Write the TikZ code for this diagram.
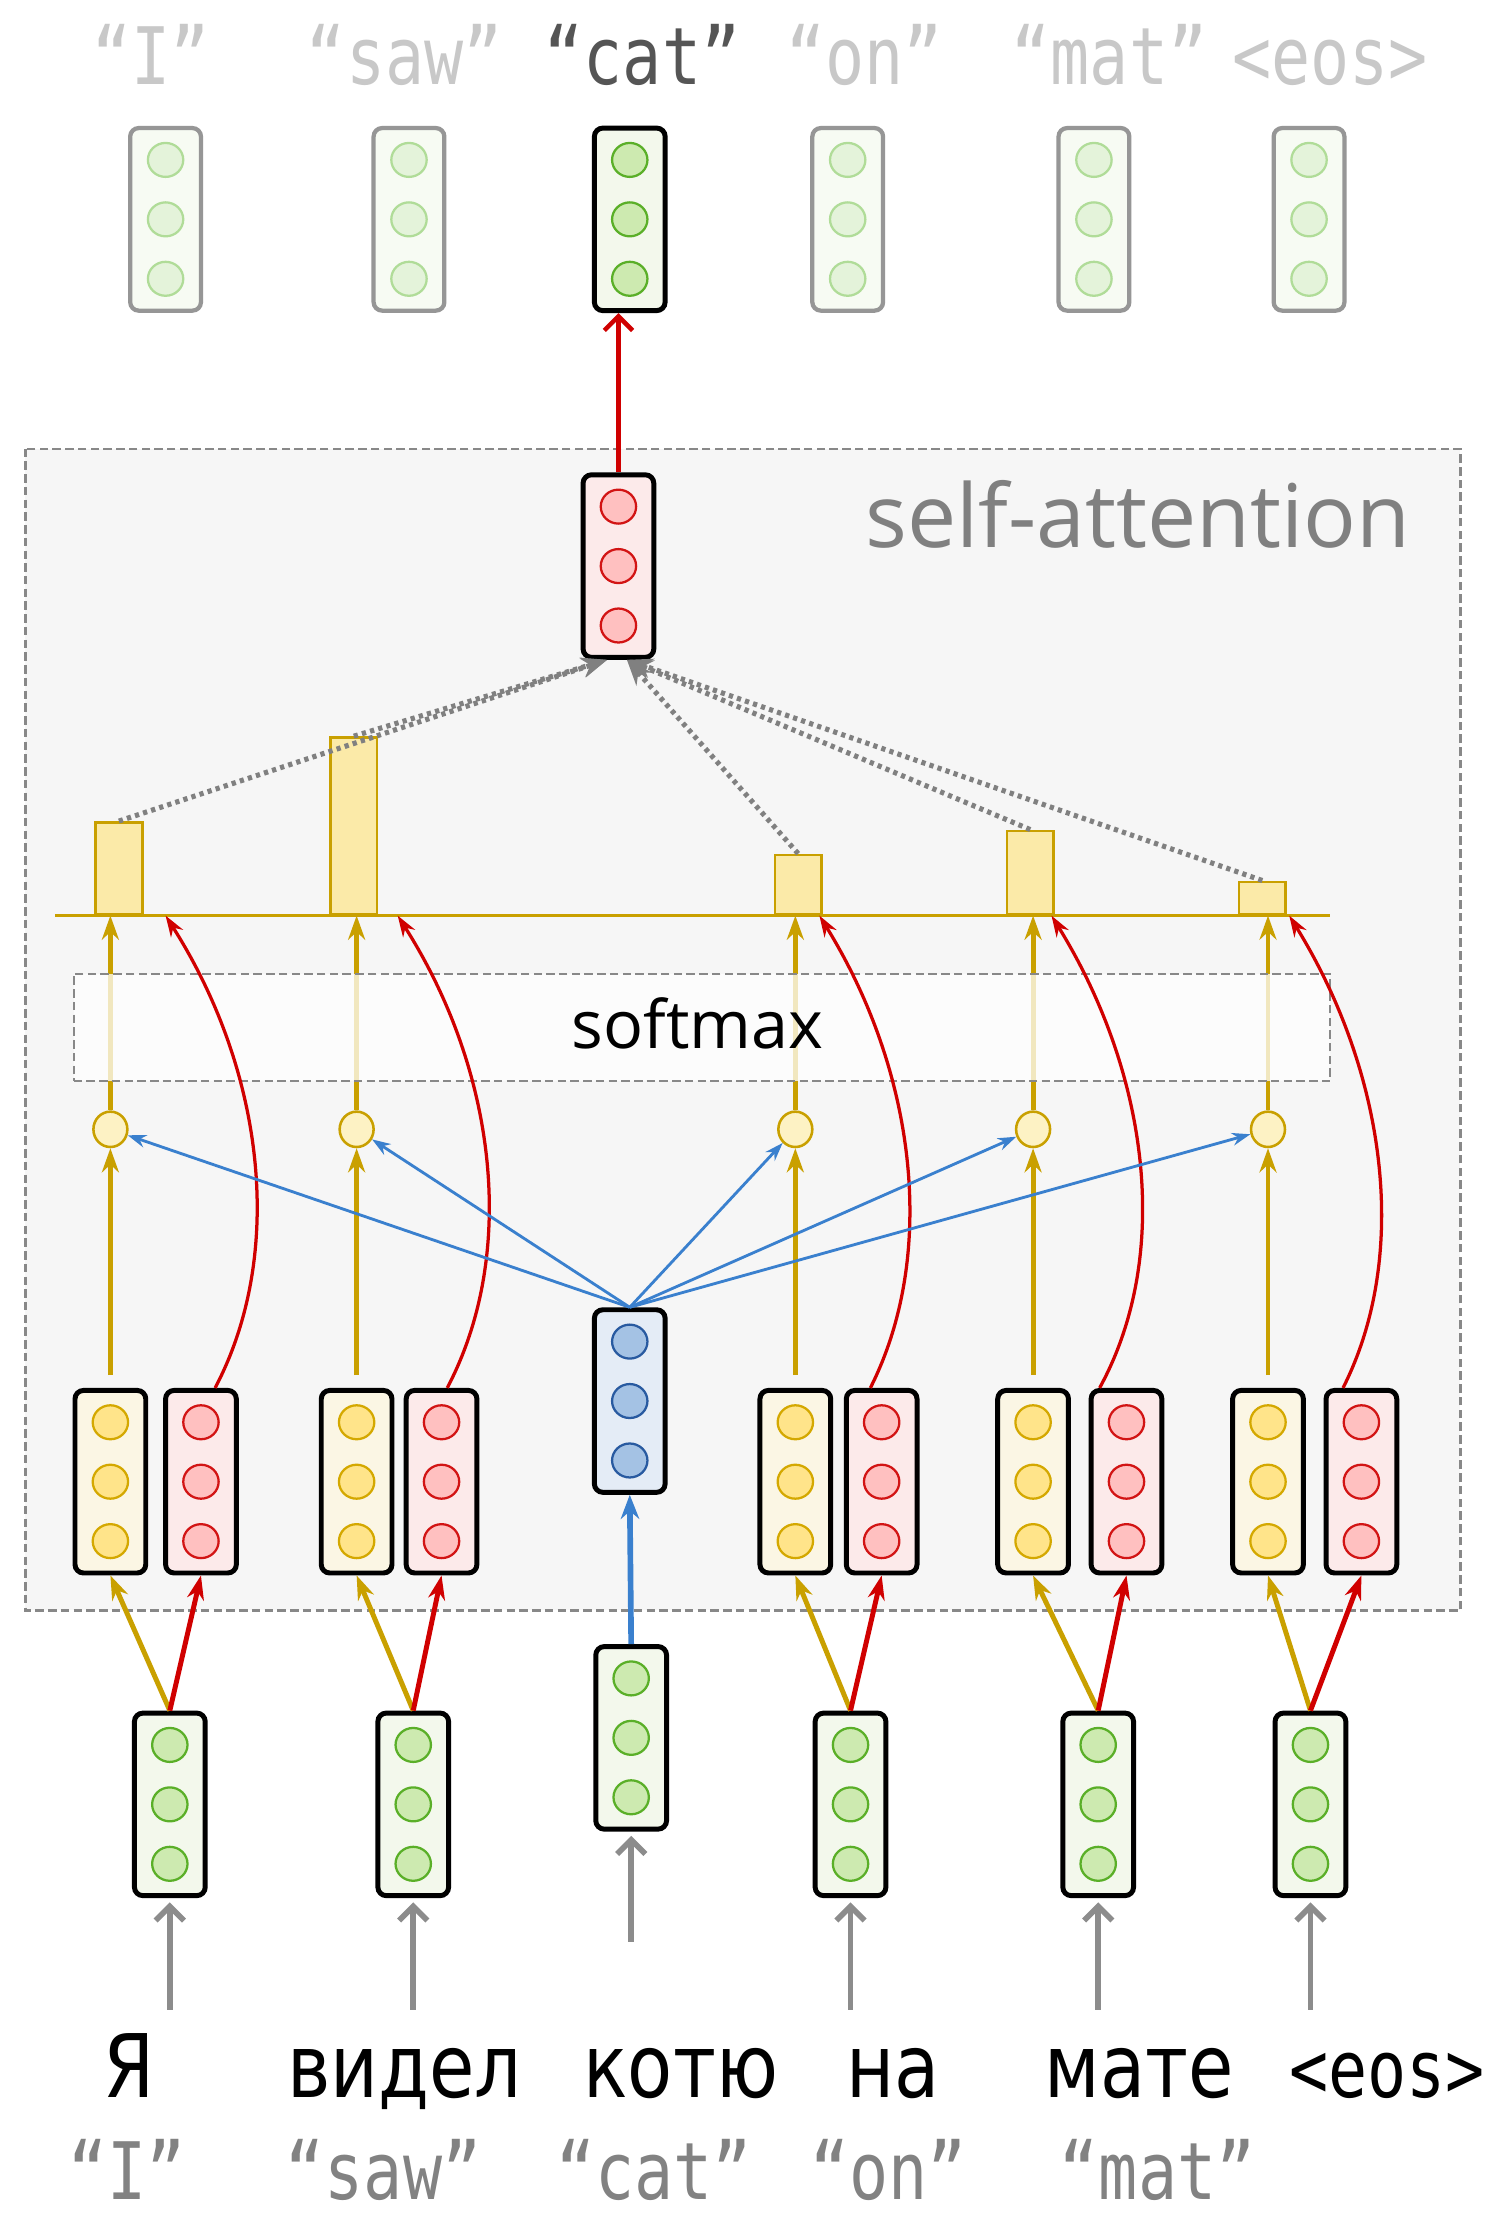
\documentclass[tikz,border=0pt]{standalone}
\usepackage{fontspec}
\usepackage{graphicx}
\setmainfont{DejaVu Sans}
\newfontfamily\monof{DejaVu Sans Mono}
\newfontfamily\osans{Open Sans}
\usetikzlibrary{arrows.meta,shapes.geometric,calc}

\definecolor{gold}{RGB}{201,160,0}
\definecolor{redc}{RGB}{208,0,0}
\definecolor{bluec}{RGB}{58,128,206}
\definecolor{greenc}{RGB}{90,175,40}
\definecolor{greenf}{RGB}{205,234,176}
\definecolor{greenbox}{RGB}{243,248,236}
\definecolor{yelc}{RGB}{212,168,0}
\definecolor{yelf}{RGB}{255,228,138}
\definecolor{yelbox}{RGB}{251,246,228}
\definecolor{redcir}{RGB}{210,20,20}
\definecolor{redf}{RGB}{255,192,192}
\definecolor{redbox}{RGB}{252,234,234}
\definecolor{bluecir}{RGB}{40,90,160}
\definecolor{bluef}{RGB}{164,194,228}
\definecolor{bluebox}{RGB}{228,236,246}
\definecolor{bgc}{RGB}{246,246,246}
\definecolor{barf}{RGB}{251,234,168}
\definecolor{scoref}{RGB}{253,242,196}
\definecolor{fadegray}{RGB}{150,150,150}
\definecolor{fadebox}{RGB}{247,251,243}
\definecolor{fadecir}{RGB}{176,220,152}
\definecolor{fadef}{RGB}{228,243,218}
\definecolor{framegray}{RGB}{136,136,136}
\definecolor{dotgray}{RGB}{128,128,128}
\definecolor{ingray}{RGB}{140,140,140}
\definecolor{satgray}{RGB}{128,128,128}
\definecolor{glossgray}{RGB}{130,130,130}
\definecolor{toplight}{RGB}{200,200,200}
\definecolor{topdark}{RGB}{85,85,85}

\tikzset{
  vbx/.style={rectangle, rounded corners=6pt, minimum width=50pt, minimum height=129pt, line width=3.5pt, inner sep=0pt, draw=black},
  vcir/.style={ellipse, minimum width=25pt, minimum height=24pt, inner sep=0pt, line width=1.6pt},
  gbx/.style={fill=greenbox}, gcir/.style={draw=greenc, fill=greenf},
  ybx/.style={fill=yelbox}, ycir/.style={draw=yelc, fill=yelf},
  rbx/.style={fill=redbox}, rcir/.style={draw=redcir, fill=redf},
  bbx/.style={fill=bluebox}, bcir/.style={draw=bluecir, fill=bluef},
  fbx/.style={draw=fadegray, line width=3pt, fill=fadebox}, fcir/.style={draw=fadecir, fill=fadef},
  bar/.style={rectangle, draw=gold, fill=barf, line width=1.8pt, minimum width=33pt, anchor=south, inner sep=0pt},
  score/.style={ellipse, draw=gold, fill=scoref, line width=1.8pt, minimum width=24pt, minimum height=25pt, inner sep=0pt},
  yarr/.style={draw=gold, line width=3.5pt, -{Stealth[length=17pt,width=12pt]}},
  rarr/.style={draw=redc, line width=3.5pt, -{Stealth[length=17pt,width=12pt]}},
  barr/.style={draw=bluec, line width=4pt, -{Stealth[length=17pt,width=13pt]}},
  bthin/.style={draw=bluec, line width=2pt, -{Stealth[length=13pt,width=9pt]}},
  rcurve/.style={draw=redc, line width=2.3pt, -{Stealth[length=15pt,width=10pt]}},
  dotarr/.style={draw=dotgray, line width=3.6pt, dash pattern=on 3pt off 3pt, -{Stealth[length=18pt,width=14pt]}},
  inarr/.style={draw=ingray, line width=4pt, -{Straight Barb[length=10pt,width=20pt]}},
  toparr/.style={draw=redc, line width=3.2pt, -{Straight Barb[length=10pt,width=20pt]}},
  frame/.style={draw=framegray, fill=bgc, line width=1.5pt, dash pattern=on 6pt off 3pt},
  softbox/.style={rectangle, draw=framegray, fill=white, fill opacity=0.75, line width=1.5pt, dash pattern=on 6pt off 3pt, minimum width=888pt, minimum height=76pt, inner sep=0pt},
  rus/.style={anchor=base, font=\fontsize{62}{64}\selectfont, text=black, inner sep=0pt},
  gloss/.style={anchor=base, font=\monof\fontsize{56}{58}\selectfont, inner sep=0pt},
}

\newcommand{\vecnode}[5]{%
  \node[vbx,#4] (#1) at (#2,#3) {};
  \node[vcir,#5] (#1-a) at (#2,#3-42) {};
  \node[vcir,#5] (#1-b) at (#2,#3) {};
  \node[vcir,#5] (#1-c) at (#2,#3+42) {};
}

\begin{document}
\begin{tikzpicture}[x=1pt,y=-1pt]
\fill[white] (0,0) rectangle (1057,1568);
\useasboundingbox (0,0) rectangle (1057,1568);

% self-attention frame
\draw[frame] (18,317) rectangle (1032,1138);
\node[anchor=base, inner sep=0pt, font=\osans\fontsize{62}{64}\selectfont, text=satgray] (satt) at (804,387) {self-attention};

% baseline of the attention weights
\coordinate (L0) at (39,647);
\coordinate (L1) at (940,647);
\draw[gold, line width=2pt] (L0) -- (L1);

% bars
\node[bar, minimum height=65pt] (b1) at (84,647) {};
\node[bar, minimum height=125pt] (b2) at (250,647) {};
\node[bar, minimum height=42pt] (b4) at (564,647) {};
\node[bar, minimum height=59pt] (b5) at (728,647) {};
\node[bar, minimum height=23pt] (b6) at (892,647) {};

% vectors
\vecnode{g1}{120}{1275}{gbx}{gcir}
\vecnode{g2}{292}{1275}{gbx}{gcir}
\vecnode{g3}{446}{1228}{gbx}{gcir}
\vecnode{g4}{601}{1275}{gbx}{gcir}
\vecnode{g5}{776}{1275}{gbx}{gcir}
\vecnode{g6}{926}{1275}{gbx}{gcir}

\vecnode{k1}{78}{1047}{ybx}{ycir}
\vecnode{k2}{252}{1047}{ybx}{ycir}
\vecnode{k4}{562}{1047}{ybx}{ycir}
\vecnode{k5}{730}{1047}{ybx}{ycir}
\vecnode{k6}{896}{1047}{ybx}{ycir}

\vecnode{v1}{142}{1047}{rbx}{rcir}
\vecnode{v2}{312}{1047}{rbx}{rcir}
\vecnode{v4}{623}{1047}{rbx}{rcir}
\vecnode{v5}{796}{1047}{rbx}{rcir}
\vecnode{v6}{962}{1047}{rbx}{rcir}

\vecnode{q}{445}{990}{bbx}{bcir}
\vecnode{o}{437}{400}{rbx}{rcir}

\vecnode{t1}{117}{155}{fbx}{fcir}
\vecnode{t2}{289}{155}{fbx}{fcir}
\vecnode{t3}{445}{155}{gbx}{gcir}
\vecnode{t4}{599}{155}{fbx}{fcir}
\vecnode{t5}{773}{155}{fbx}{fcir}
\vecnode{t6}{925}{155}{fbx}{fcir}

% score circles
\coordinate (sc) at (0,798);
\foreach \i in {1,2,4,5,6} {
  \node[score] (s\i) at (k\i |- sc) {};
}

% key -> score -> weight
\foreach \i in {1,2,4,5,6} {
  \draw[yarr, shorten <=9pt] (k\i.north) -- (s\i.south);
  \draw[yarr] (s\i.north) -- (s\i.north |- L0);
}

% softmax
\node[softbox] (sm) at (496,726) {};
\node[anchor=base, inner sep=0pt, font=\osans\fontsize{47}{49}\selectfont, text=black] (smt) at (493,741) {softmax};

% value curves
\coordinate (r1) at (117,647);
\coordinate (r2) at (281,647);
\coordinate (r4) at (579,647);
\coordinate (r5) at (743,647);
\coordinate (r6) at (911,647);
\draw[rcurve] ([xshift=10pt]v1.north) .. controls +(50,-95) and +(70,110) .. (r1);
\draw[rcurve] ([xshift=4pt]v2.north) .. controls +(50,-95) and +(70,110) .. (r2);
\draw[rcurve] ([xshift=-8pt]v4.north) .. controls +(48,-95) and +(68,110) .. (r4);
\draw[rcurve] ([xshift=-19pt]v5.north) .. controls +(52,-95) and +(68,110) .. (r5);
\draw[rcurve] ([xshift=-13pt]v6.north) .. controls +(48,-95) and +(68,110) .. (r6);

% query -> scores
\foreach \i in {1,2,4,5,6} {
  \draw[bthin] (q.north) -- (s\i);
}

% weights -> output
\draw[dotarr] (b1.north) -- ([xshift=-8pt]o.south);
\draw[dotarr] (b2.north) -- ([xshift=-8pt]o.south);
\draw[dotarr] (b4.north) -- ([xshift=6pt]o.south);
\draw[dotarr] (b5.north) -- ([xshift=6pt]o.south);
\draw[dotarr] (b6.north) -- ([xshift=6pt]o.south);

% inputs -> keys / values / query
\foreach \i in {1,2,4,5,6} {
  \draw[yarr] (g\i.north) -- (k\i.south);
  \draw[rarr] (g\i.north) -- (v\i.south);
}
\draw[barr] (g3.north) -- (q.south);
\draw[toparr] (o.north) -- (o.north |- t3.south);

% words -> inputs
\coordinate (w1) at (120,1420);
\coordinate (w2) at (292,1420);
\coordinate (w3) at (446,1372);
\coordinate (w4) at (601,1420);
\coordinate (w5) at (776,1420);
\coordinate (w6) at (926,1420);
\foreach \i in {1,2,3,4,5,6} {
  \draw[inarr, shorten >=3pt] (w\i) -- (g\i.south);
}

% source words
\node[rus] (ru1) at (91,1482) {\scalebox{0.84}[1]{Я}};
\node[rus] (ru2) at (286,1482) {\scalebox{0.84}[1]{видел}};
\node[rus] (ru3) at (481,1482) {\scalebox{0.84}[1]{котю}};
\node[rus] (ru4) at (631,1482) {\scalebox{0.84}[1]{на}};
\node[rus] (ru5) at (805,1482) {\scalebox{0.84}[1]{мате}};
\node[gloss, text=black] (ru6) at (980,1482) {\scalebox{0.82}[1]{<eos>}};

% glosses bottom
\node[gloss, text=glossgray] (eb1) at (90,1554) {\scalebox{0.82}[1]{“I”}};
\node[gloss, text=glossgray] (eb2) at (271,1554) {\scalebox{0.82}[1]{“saw”}};
\node[gloss, text=glossgray] (eb3) at (462,1554) {\scalebox{0.82}[1]{“cat”}};
\node[gloss, text=glossgray] (eb4) at (628,1554) {\scalebox{0.82}[1]{“on”}};
\node[gloss, text=glossgray] (eb5) at (818,1554) {\scalebox{0.82}[1]{“mat”}};

% glosses top
\node[gloss, text=toplight] (et1) at (107,60) {\scalebox{0.82}[1]{“I”}};
\node[gloss, text=toplight] (et2) at (286,60) {\scalebox{0.82}[1]{“saw”}};
\node[gloss, text=topdark] (et3) at (454,60) {\scalebox{0.82}[1]{“cat”}};
\node[gloss, text=toplight] (et4) at (611,60) {\scalebox{0.82}[1]{“on”}};
\node[gloss, text=toplight] (et5) at (784,60) {\scalebox{0.82}[1]{“mat”}};
\node[gloss, text=toplight] (et6) at (940,60) {\scalebox{0.82}[1]{<eos>}};
\end{tikzpicture}
\end{document}
